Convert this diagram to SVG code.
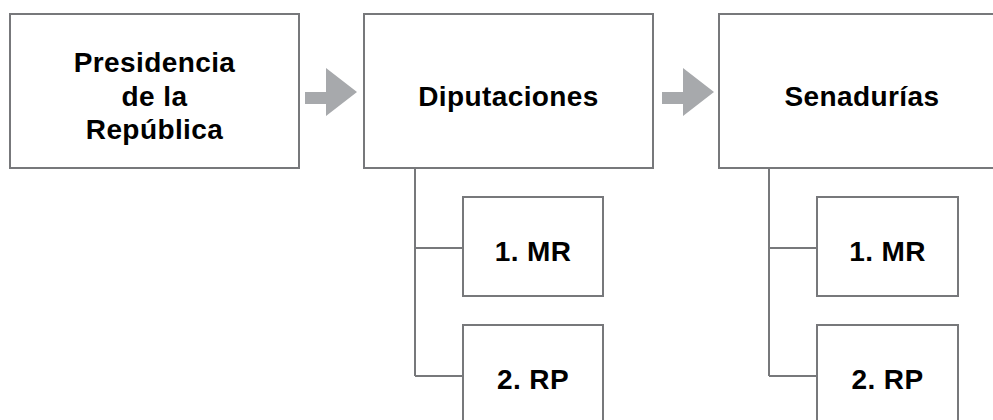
<svg xmlns="http://www.w3.org/2000/svg" width="993" height="420" viewBox="0 0 993 420">
<style>
.box{fill:#fff;stroke:#77787b;stroke-width:2}
.ln{fill:none;stroke:#77787b;stroke-width:2}
.arr{fill:#a7a9ac}
.t{font-family:"Liberation Sans",Arial,sans-serif;font-weight:bold;font-size:28px;letter-spacing:0.4px;fill:#000;text-anchor:middle}
</style>
<rect width="993" height="420" fill="#fff"/>
<g id="connectors">
<path class="ln" d="M415 168V376M415 248H463M415 376H463"/>
<path class="ln" d="M769 168V376M769 248H817M769 376H817"/>
<polygon class="arr" points="305,92 326,92 326,68 357,92 357,92 326,116 326,104 305,104"/>
<polygon class="arr" points="662,92 683,92 683,68 714,92 714,92 683,116 683,104 662,104"/>
</g>
<g id="presidencia">
<rect class="box" x="10" y="14" width="289" height="154"/>
<text class="t" x="154.5" y="72">Presidencia</text>
<text class="t" x="154.5" y="106">de la</text>
<text class="t" x="154.5" y="139">República</text>
</g>
<g id="diputaciones">
<rect class="box" x="364" y="14" width="289" height="154"/>
<text class="t" x="508.5" y="106">Diputaciones</text>
</g>
<g id="senadurias">
<rect class="box" x="719" y="14" width="300" height="154"/>
<text class="t" x="862" y="106">Senadurías</text>
</g>
<g id="dip-mr">
<rect class="box" x="463" y="197" width="140" height="99"/>
<text class="t" x="533" y="261">1. MR</text>
</g>
<g id="dip-rp">
<rect class="box" x="463" y="325" width="140" height="110"/>
<text class="t" x="533" y="389">2. RP</text>
</g>
<g id="sen-mr">
<rect class="box" x="817" y="197" width="141" height="99"/>
<text class="t" x="887.5" y="261">1. MR</text>
</g>
<g id="sen-rp">
<rect class="box" x="817" y="325" width="141" height="110"/>
<text class="t" x="887.5" y="389">2. RP</text>
</g>
</svg>
